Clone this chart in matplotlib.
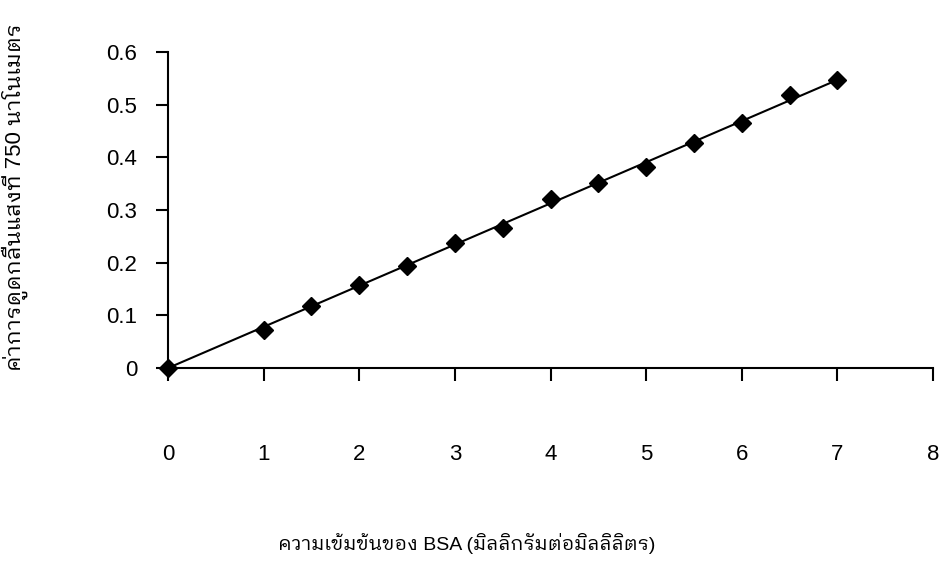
import matplotlib
matplotlib.use("Agg")
import matplotlib.pyplot as plt
import numpy as np

# BSA standard curve (Lowry, 750 nm)
bsa_conc = [0, 1, 1.5, 2, 2.5, 3, 3.5, 4, 4.5, 5, 5.5, 6, 6.5, 7]
absorbance = [0, 0.073, 0.117, 0.158, 0.194, 0.238, 0.266, 0.320,
              0.351, 0.381, 0.428, 0.466, 0.519, 0.547]

x_ticks = [0, 1, 2, 3, 4, 5, 6, 7, 8]
y_ticks = [0, 0.1, 0.2, 0.3, 0.4, 0.5, 0.6]
x_labels = ["0", "1", "2", "3", "4", "5", "6", "7", "8"]
y_labels = ["0", "0.1", "0.2", "0.3", "0.4", "0.5", "0.6"]

xlabel = "ความเข้มข้นของ BSA (มิลลิกรัมต่อมิลลิลิตร)"
ylabel = "ค่าการดูดกลืนแสงที่ 750 นาโนเมตร"

plt.rcParams["font.family"] = ["Liberation Sans", "IBM Plex Sans Thai Looped", "DejaVu Sans"]

fig = plt.figure(figsize=(9.43, 5.61), dpi=100)
ax = fig.add_axes([0.1782, 0.344, 0.8112, 0.5633])

x = np.array(bsa_conc)
y = np.array(absorbance)

# linear trendline forced through the origin
slope = np.sum(x * y) / np.sum(x * x)
ax.plot([x.min(), x.max()], [0, slope * x.max()], color="black", lw=1.5,
        clip_on=False, zorder=2)
ax.plot(x, y, linestyle="none", marker="D", markersize=9, color="black",
        clip_on=False, zorder=3)

ax.set_xlim(0, 8)
ax.set_ylim(0, 0.6)
ax.set_xticks(x_ticks)
ax.set_xticklabels(x_labels)
ax.set_yticks(y_ticks)
ax.set_yticklabels(y_labels)

for side in ("top", "right"):
    ax.spines[side].set_visible(False)
for side in ("left", "bottom"):
    ax.spines[side].set_linewidth(1.5)

ax.tick_params(axis="both", direction="out", length=9, width=1.5,
               labelsize=16, colors="black")
ax.tick_params(axis="x", pad=46)
ax.tick_params(axis="y", pad=13)

fig.text(15 / 943, 1 - 197 / 561, ylabel, rotation=90, ha="center",
         va="center", fontsize=16)
fig.text(467 / 943, 1 - 543 / 561, xlabel, ha="center", va="center",
         fontsize=14)

fig.savefig("out.png", dpi=100)
